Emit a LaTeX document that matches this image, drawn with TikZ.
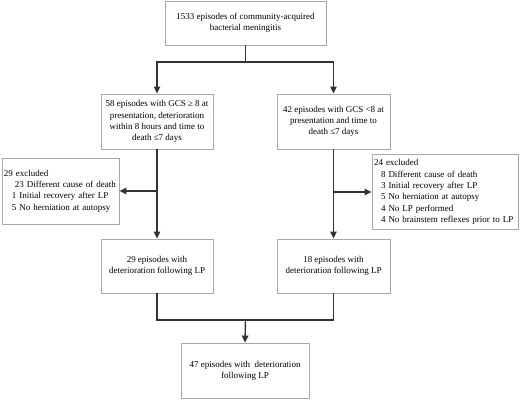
\documentclass[tikz,border=0pt]{standalone}
\usepackage{fontspec}
\setmainfont{Liberation Serif}
\usetikzlibrary{arrows.meta}
\definecolor{boxline}{HTML}{A8A8A8}
\definecolor{conn}{HTML}{333333}
\begin{document}
\begin{tikzpicture}[x=1pt,y=1pt,
  box/.style={draw=boxline, line width=0.9pt, inner sep=0pt, align=center,
    font=\fontsize{9}{11.3}\selectfont},
  exbox/.style={draw=boxline, line width=0.9pt, inner sep=0pt, align=left,
    font=\fontsize{9}{11.3}\selectfont},
  line/.style={draw=conn, line width=1.4pt},
  arr/.style={line, -{Triangle[length=7pt,width=6.5pt]}}]
\useasboundingbox (0,0) rectangle (520,-400);
\node[box, minimum width=161, minimum height=44] (top) at (245.5,-23) {1533 episodes of community-acquired\\bacterial meningitis};
\node[box, minimum width=112, minimum height=55] (l1) at (157,-121.5) {58 episodes with GCS ≥ 8 at\\presentation, deterioration\\within 8 hours and time to\\death ≤7 days};
\node[box, minimum width=113, minimum height=55] (r1) at (333.5,-121.5) {42 episodes with GCS <8 at\\presentation and time to\\death ≤7 days};
\node[exbox, minimum width=117, minimum height=66, text width=113] (exl) at (60.5,-191) {29 excluded\\\hspace*{11pt}23 Different cause of death\\\hspace*{8pt}1 Initial recovery after LP\\\hspace*{8pt}5 No herniation at autopsy};
\node[exbox, minimum width=146, minimum height=75, text width=142] (exr) at (445,-192) {24 excluded\\\hspace*{7pt}8 Different cause of death\\\hspace*{7pt}3 Initial recovery after LP\\\hspace*{7pt}5 No herniation at autopsy\\\hspace*{7pt}4 No LP performed\\\hspace*{7pt}4 No brainstem reflexes prior to LP};
\node[box, minimum width=112, minimum height=54] (l2) at (157,-266) {29 episodes with\\deterioration following LP};
\node[box, minimum width=113, minimum height=54] (r2) at (333.5,-266) {18 episodes with\\deterioration following LP};
\node[box, minimum width=128, minimum height=55] (bot) at (245,-370.5) {47 episodes with \ deterioration\\following LP};
\coordinate (split) at (245.5,-62);
\coordinate (join) at (245.5,-320);
\draw[line] (top.south) -- (split);
\draw[arr] (split) -| (l1.north);
\draw[arr] (split) -| (r1.north);
\draw[arr] (l1.south) -- (l2.north);
\draw[arr] (r1.south) -- (r2.north);
\draw[arr] (l1.south |- exl.east) -- (exl.east);
\draw[arr] (r1.south |- exr.west) -- (exr.west);
\draw[line] (l2.south) |- (join);
\draw[line] (r2.south) |- (join);
\draw[arr] (join) -- (bot.north);
\end{tikzpicture}
\end{document}
